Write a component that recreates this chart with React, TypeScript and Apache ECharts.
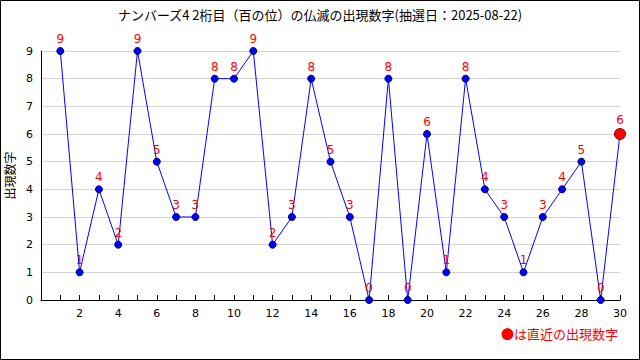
import React, { useEffect, useRef } from "react";
import * as echarts from "echarts";

const draws = [1, 2, 3, 4, 5, 6, 7, 8, 9, 10, 11, 12, 13, 14, 15, 16, 17, 18, 19, 20, 21, 22, 23, 24, 25, 26, 27, 28, 29, 30];
const digits = [9, 1, 4, 2, 9, 5, 3, 3, 8, 8, 9, 2, 3, 8, 5, 3, 0, 8, 0, 6, 1, 8, 4, 3, 1, 3, 4, 5, 0, 6];
const titleText = "ナンバーズ4 2桁目（百の位）の仏滅の出現数字(抽選日：2025-08-22)";
const yName = "出現数字";
const noteText = "●は直近の出現数字";

export default function App() {
  const ref = useRef<HTMLDivElement>(null);
  useEffect(() => {
    document.body.style.margin = "0";
    const chart = echarts.init(ref.current!, null, { renderer: "svg" });
    const last = draws.length - 1;
    const data = draws.map((x, i) =>
      i === last
        ? {
            value: [x, digits[i]],
            symbolSize: 11,
            itemStyle: { color: "#ff0000", borderColor: "#800000", borderWidth: 1 },
          }
        : { value: [x, digits[i]] }
    );
    chart.setOption({
      animation: false,
      backgroundColor: "#ffffff",
      title: {
        text: titleText,
        left: "center",
        top: 3,
        textStyle: { fontSize: 13, fontWeight: "normal", color: "#000", fontFamily: "Noto Sans CJK JP" },
      },
      grid: { left: 41, right: 20, top: 51, bottom: 60, containLabel: false, outerBoundsMode: "none" },
      xAxis: {
        type: "value",
        min: 0,
        max: 30,
        interval: 1,
        axisLine: { show: true, lineStyle: { color: "#000", width: 1 } },
        axisTick: { show: true, inside: true, length: 5, lineStyle: { color: "#000" } },
        splitLine: { show: false },
        axisLabel: {
          color: "#000",
          fontSize: 11,
          fontFamily: "DejaVu Sans",
          margin: 8,
          formatter: (v: number) => (v > 0 && v % 2 === 0 ? String(v) : ""),
        },
      },
      yAxis: {
        type: "value",
        min: 0,
        max: 9,
        interval: 1,
        name: yName,
        nameLocation: "middle",
        nameRotate: 90,
        nameGap: 25,
        nameTextStyle: { color: "#000", fontSize: 12, fontFamily: "Noto Sans CJK JP" },
        axisLine: { show: true, lineStyle: { color: "#000", width: 1 } },
        axisTick: { show: false },
        splitLine: { show: true, lineStyle: { color: "#d3d3d3", width: 1 } },
        axisLabel: { color: "#000", fontSize: 11, fontFamily: "DejaVu Sans", margin: 8 },
      },
      series: [
        {
          type: "line",
          data,
          symbol: "circle",
          symbolSize: 7,
          lineStyle: { color: "#0000ff", width: 1 },
          itemStyle: { color: "#0000ff", borderColor: "#000066", borderWidth: 1 },
          label: {
            show: true,
            position: "top",
            distance: 2,
            color: "#ff0000",
            fontSize: 12,
            fontFamily: "DejaVu Sans",
            formatter: (p: any) => String(p.value[1]),
          },
          z: 3,
        },
      ],
      graphic: [
        {
          type: "rect",
          shape: { x: 0.5, y: 0.5, width: 639, height: 359 },
          style: { fill: "none", stroke: "#000", lineWidth: 1 },
          silent: true,
        },
        {
          type: "text",
          right: 22,
          top: 327,
          style: { text: noteText, fill: "#ff0000", fontSize: 13, fontFamily: "Noto Sans CJK JP" },
        },
      ],
    });
    return () => chart.dispose();
  }, []);
  return <div ref={ref} style={{ position: "absolute", left: 0, top: 0, width: 640, height: 360 }} />;
}
